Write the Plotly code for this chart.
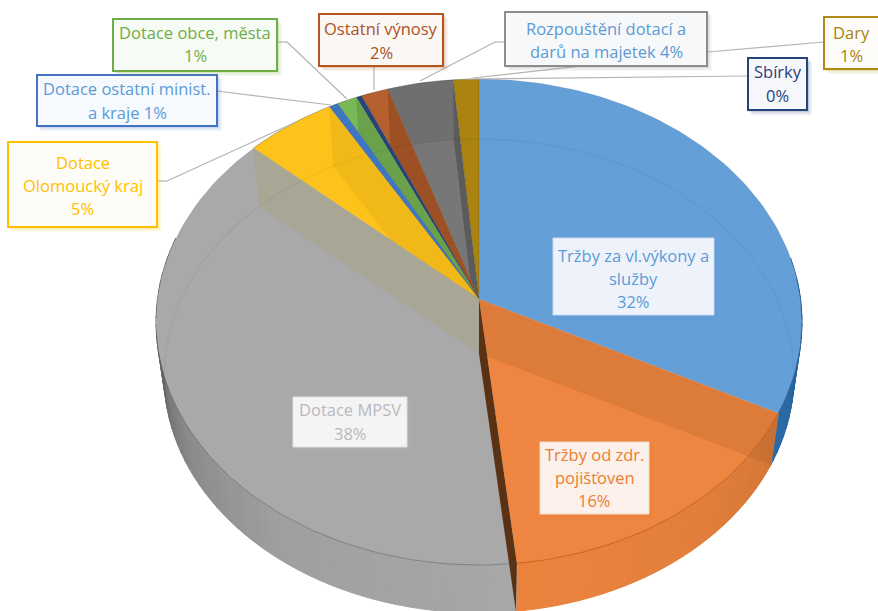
import numpy as np
import plotly.graph_objects as go

# ---- data: share of each slice in percent, clockwise from 12 o'clock
categories = ["Tržby za vl.výkony a služby", "Tržby od zdr. pojišťoven", "Dotace MPSV",
              "Dotace Olomoucký kraj", "Dotace ostatní minist. a kraje", "Dotace obce, města",
              "Sbírky", "Ostatní výnosy", "Rozpouštění dotací a darů na majetek", "Dary"]
shares = [32.5, 15.8, 38.3, 5.0, 0.5, 1.1, 0.3, 1.5, 3.6, 1.4]
label_lines = [["Tržby za vl.výkony a", "služby", "32%"],
               ["Tržby od zdr.", "pojišťoven", "16%"],
               ["Dotace MPSV", "38%"],
               ["Dotace", "Olomoucký kraj", "5%"],
               ["Dotace ostatní minist.", "a kraje 1%"],
               ["Dotace obce, města", "1%"],
               ["Sbírky", "0%"],
               ["Ostatní výnosy", "2%"],
               ["Rozpouštění dotací a", "darů na majetek 4%"],
               ["Dary", "1%"]]

# ---- styles
top_colors = ["#659fd8", "#ee8540", "#a9a9a9", "#fec31a", "#3f76c0", "#78b955",
              "#264478", "#b5602e", "#6f6f6f", "#ab8310"]
wall_colors = {0: (46, 117, 182), 1: (236, 132, 62), 2: (168, 168, 168)}
wall_shade = {0: ([80, 117], [0.78, 0.92]),
              1: ([117, 140, 174], [0.9, 0.96, 1.0]),
              2: ([174, 215, 240, 262, 285], [1.0, 0.95, 0.83, 0.6, 0.45])}
end_wall_fill = {3: "rgba(0,0,0,0.05)", 5: "rgba(0,0,0,0.12)", 7: "rgba(60,20,0,0.2)",
                 8: "rgba(0,0,0,0.18)"}
text_colors = ["#5b9bd5", "#ed7d31", "#b9b9bd", "#ffc000", "#5b9bd5", "#70ad47",
               "#264478", "#a9531f", "#5b9bd5", "#a9820f"]
border_colors = ["#c9dbf0", "#f8dccb", "#e0e0e0", "#ffc000", "#4472c4", "#70ad47",
                 "#264478", "#b5541b", "#8c8c8c", "#b18a14"]
fills = ["#eef3fb", "#fbf0ea", "#f4f4f4", "#fdfcf6", "#f6f9fd", "#f7fbf5",
         "#f6f7fa", "#fbf7f5", "#f7f8fa", "#fdfcf8"]
border_w = [1, 1, 1, 2, 2, 2, 2, 2, 2, 2]
boxes = [(553, 238, 714, 315), (540, 442, 649, 514), (293, 397, 407, 447),
         (8, 142, 157, 227), (37, 75, 217, 126), (113, 19, 277, 71),
         (748, 58, 807, 110), (319, 14, 443, 66), (505, 12, 707, 66), (824, 17, 880, 69)]
text_shift = [2, -0.5, -0.5, 1, 0, -1, -0.5, 0.5, 1, 1]
leaders = [[(157, 181), (167, 181), (296, 122)],
           [(217, 91), (331, 105)],
           [(277, 42), (287, 42), (347, 99)],
           [(747, 76), (467, 79)],
           [(374, 66), (374, 90)],
           [(505, 42), (495, 42), (420, 81)],
           [(824, 42), (708, 52), (473, 78)]]
FONT = "Open Sans"
FONT_SIZE = 16.5
LINE_GAP = 23.2

# ---- projection of the tilted disc
K, R, H = 0.0947, 321.5, 240.8
CX, TOP_Y, BOT_Y, BOT_S = 479.0, 299.0, 353.5, 0.975


def project(theta, level=0):
    t = np.radians(np.asarray(theta, dtype=float))
    u, v = np.sin(t), np.cos(t)
    w = 1 + K * v
    s, y0 = (1.0, TOP_Y) if level == 0 else (BOT_S, BOT_Y)
    return CX + s * R * u / w, y0 - s * H * v / w


def arc(a, b, level=0):
    n = max(2, int(abs(b - a) / 1.5) + 2)
    return project(np.linspace(a, b, n), level)


edges = np.concatenate([[0.0], np.cumsum(shares) * 3.6])
fig = go.Figure()


def poly(x, y, fill, line=None, width=0):
    fig.add_trace(go.Scatter(x=list(x), y=list(y), mode="lines", fill="toself",
                             fillcolor=fill, hoverinfo="skip", showlegend=False,
                             line=dict(color=line or "rgba(0,0,0,0)", width=width)))


def sector(a, b, level, fill, line=None, width=0):
    x, y = arc(a, b, level)
    y0 = TOP_Y if level == 0 else BOT_Y
    poly(np.r_[CX, x, CX], np.r_[y0, y, y0], fill, line, width)


def inner_wall(theta, fill):
    xt, yt = project(theta, 0)
    xb, yb = project(theta, 1)
    poly([CX, xt, xb, CX, CX], [TOP_Y, yt, yb, BOT_Y, TOP_Y], fill)


# outer wall, shaded along the rim
for i, base in wall_colors.items():
    a, b = (80, edges[1]) if i == 0 else (edges[i], edges[i + 1] if i == 1 else 285)
    steps = np.arange(a, b, 2.0)
    steps = np.r_[steps, b]
    for p, q in zip(steps[:-1], steps[1:]):
        m = np.interp((p + q) / 2, *wall_shade[i])
        col = "rgb(%d,%d,%d)" % tuple(int(c * m) for c in base)
        xt, yt = project([p, q], 0)
        xb, yb = project([q, p], 1)
        poly(np.r_[xt, xb, xt[0]], np.r_[yt, yb, yt[0]], col, col, 1)

# top faces: back slices first so that each covers its neighbour's inner wall
for i in range(len(shares) - 1, 2, -1):
    sector(edges[i], edges[i + 1], 0, top_colors[i], "rgba(0,0,0,0.15)", 0.6)
    if i == 8:
        sector(edges[i], edges[i + 1], 1, "rgba(255,255,255,0.06)")
    if i in end_wall_fill:
        inner_wall(edges[i + 1], end_wall_fill[i])

sector(edges[2], edges[3], 0, top_colors[2])
inner_wall(edges[3], "#a9a696")
sector(edges[0], edges[1], 0, top_colors[0], "rgba(0,0,0,0.12)", 0.6)
sector(edges[1], edges[2], 0, top_colors[1])
inner_wall(edges[1], "rgba(110,60,20,0.13)")
inner_wall(edges[2], "#5a3213")

# rim lines
for a, b, col, lvl, w in [(-95, 100, "rgba(0,0,0,0.05)", 1, 1.2),
                          (edges[2], 262, "rgba(70,70,70,0.5)", 0, 0.8),
                          (edges[1], edges[2], "rgba(190,85,20,0.8)", 0, 0.9),
                          (85, edges[1], "rgba(40,80,130,0.55)", 0, 0.8),
                          (edges[3], 360, "rgba(60,60,60,0.4)", 0, 0.6)]:
    x, y = arc(a, b, lvl)
    fig.add_trace(go.Scatter(x=x, y=y, mode="lines", hoverinfo="skip", showlegend=False,
                             line=dict(color=col, width=w)))

# leader lines, boxes and texts
shapes, annotations = [], []
for pts in leaders:
    for (x0, y0), (x1, y1) in zip(pts[:-1], pts[1:]):
        shapes.append(dict(type="line", x0=x0, y0=y0, x1=x1, y1=y1, layer="above",
                           line=dict(color="#b4b4b4", width=1.2)))
for i, (x0, y0, x1, y1) in enumerate(boxes):
    rgb = tuple(int(border_colors[i][j:j + 2], 16) for j in (1, 3, 5))
    if i < 3:
        rgb = tuple(int(text_colors[i][j:j + 2], 16) for j in (1, 3, 5))
    for off, alpha in [(5, 0.07), (3.5, 0.1), (2, 0.14)]:
        shapes.append(dict(type="rect", x0=x0 + off - 1, y0=y0 + off - 1, x1=x1 + off, y1=y1 + off,
                           layer="above", line=dict(width=0),
                           fillcolor="rgba(%d,%d,%d,%.2f)" % (*rgb, alpha)))
    shapes.append(dict(type="rect", x0=x0, y0=y0, x1=x1, y1=y1, layer="above", fillcolor=fills[i],
                       line=dict(color=border_colors[i], width=border_w[i])))
    lines = label_lines[i]
    cx = 851 if i == 9 else (x0 + x1) / 2
    cy = (y0 + y1) / 2 + text_shift[i]
    for n, txt in enumerate(lines):
        annotations.append(dict(x=cx, y=cy + (n - (len(lines) - 1) / 2) * LINE_GAP, text=txt,
                                showarrow=False, xanchor="center", yanchor="middle",
                                font=dict(family=FONT, size=FONT_SIZE, color=text_colors[i])))

axis = dict(visible=False, fixedrange=True)
fig.update_layout(width=878, height=611, autosize=False, margin=dict(l=0, r=0, t=0, b=0),
                  paper_bgcolor="white", plot_bgcolor="white", showlegend=False,
                  xaxis=dict(range=[0, 878], **axis),
                  yaxis=dict(range=[611, 0], **axis),
                  shapes=shapes, annotations=annotations)
fig.write_html("out.html", config=dict(displayModeBar=False),
               post_script="document.body.style.margin='0';document.body.style.overflow='hidden';")
